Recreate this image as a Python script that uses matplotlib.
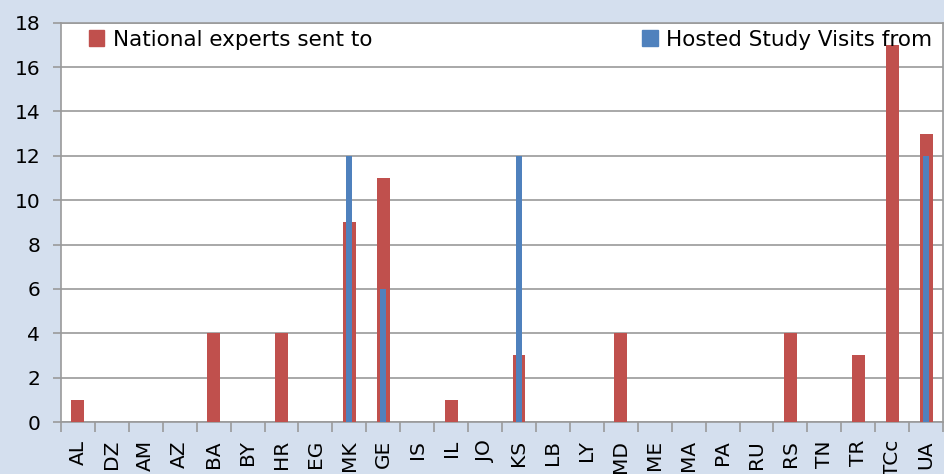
import matplotlib

matplotlib.use("Agg")
import matplotlib.pyplot as plt
import numpy as np
from matplotlib.patches import Patch

# --- data -----------------------------------------------------------------
countries = ["AL", "DZ", "AM", "AZ", "BA", "BY", "HR", "EG", "MK", "GE",
             "IS", "IL", "JO", "KS", "LB", "LY", "MD", "ME", "MA", "PA",
             "RU", "RS", "TN", "TR", "TCc", "UA"]
experts_sent = [1, 0, 0, 0, 4, 0, 4, 0, 9, 11,
                0, 1, 0, 3, 0, 0, 4, 0, 0, 0,
                0, 4, 0, 3, 17, 13]
visits_hosted = [0, 0, 0, 0, 0, 0, 0, 0, 12, 6,
                 0, 0, 0, 12, 0, 0, 0, 0, 0, 0,
                 0, 0, 0, 0, 0, 12]

RED = "#C0504D"
BLUE = "#4F81BD"
BG = "#D4DFEE"
GRID = "#9A9A9A"
FS_TICK = 14.5
FS_LEG = 15.5

plt.rcParams["font.family"] = ["DejaVu Sans"]

fig = plt.figure(figsize=(9.44, 4.74), dpi=100, facecolor=BG)
ax = fig.add_axes([0.0646, 0.1097, 0.9344, 0.8423])
ax.set_facecolor("white")

x = np.arange(len(countries))
ax.bar(x, experts_sent, width=0.38, color=RED, zorder=3)
ax.bar(x, visits_hosted, width=0.17, color=BLUE, zorder=4)

ax.set_xlim(-0.5, len(countries) - 0.5)
ax.set_ylim(0, 18)
ax.set_yticks(range(0, 19, 2))
ax.grid(axis="y", color=GRID, lw=1.2, zorder=1)

# category labels at centres, tick marks at boundaries
ax.set_xticks(x)
ax.set_xticklabels(countries, rotation=90, fontsize=FS_TICK)
ax.tick_params(axis="x", which="major", length=0, pad=13)
ax.set_xticks(np.arange(-0.5, len(countries)), minor=True)
ax.tick_params(axis="x", which="minor", length=7, width=1.2, color=GRID)
ax.tick_params(axis="y", length=6, width=1.2, color=GRID,
               labelsize=FS_TICK, pad=9)

for side in ("left", "bottom", "right", "top"):
    ax.spines[side].set_color(GRID)
    ax.spines[side].set_linewidth(1.2)

leg1 = ax.legend(handles=[Patch(color=RED, label="National experts sent to")],
                 loc="upper left", bbox_to_anchor=(0.02, 1.01), frameon=False,
                 fontsize=FS_LEG, handlelength=0.7, handleheight=0.7,
                 handletextpad=0.4, borderaxespad=0.1)
ax.add_artist(leg1)
ax.legend(handles=[Patch(color=BLUE, label="Hosted Study Visits from")],
          loc="upper right", bbox_to_anchor=(1.0, 1.01), frameon=False,
          fontsize=FS_LEG, handlelength=0.7, handleheight=0.7,
          handletextpad=0.4, borderaxespad=0.1)

fig.savefig("out.png", dpi=100, facecolor=BG)
